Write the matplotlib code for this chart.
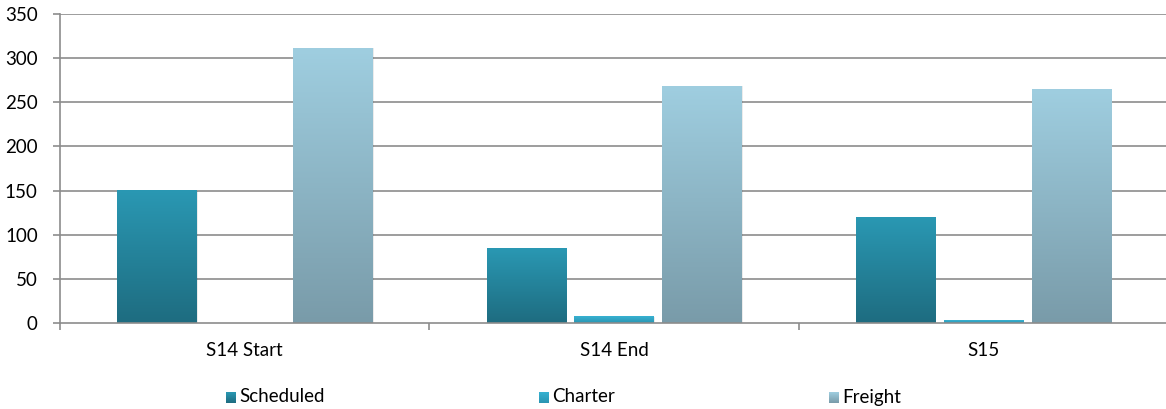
import numpy as np
import matplotlib.pyplot as plt
from matplotlib.colors import LinearSegmentedColormap
from matplotlib.patches import Rectangle

# --- data ---
categories = ["S14 Start", "S14 End", "S15"]
series_names = ["Scheduled", "Charter", "Freight"]
scheduled = [150, 84, 120]
charter = [0, 7, 2.5]
freight = [311, 268, 265]

# gradient (top, bottom) per series
grad = {
    "Scheduled": ("#2A98B3", "#1E6C80"),
    "Charter": ("#38B2D2", "#2A95B2"),
    "Freight": ("#9FCEE0", "#799BA9"),
}

plt.rcParams['font.family'] = ['Lato', 'DejaVu Sans']

fig = plt.figure(figsize=(11.66, 4.09), dpi=100)
ax = fig.add_axes([60 / 1166, 1 - 323 / 409, 1108 / 1166, 309 / 409])

x = np.arange(len(categories))
width = 0.214
step = 0.238
values = [scheduled, charter, freight]

grid_col = "#8C8C8C"
for yv in range(50, 351, 50):
    ax.axhline(yv, color=grid_col, lw=1.2, zorder=1)

for i, (name, vals) in enumerate(zip(series_names, values)):
    cmap = LinearSegmentedColormap.from_list(name, [grad[name][1], grad[name][0]])
    for xi, v in zip(x, vals):
        left = xi + (i - 1) * step - width / 2
        if v <= 0:
            continue
        # soft shadow
        ax.add_patch(Rectangle((left + 0.004, 0), width, v, color="#000000",
                               alpha=0.08, lw=0, zorder=2))
        g = np.linspace(0, 1, 256).reshape(-1, 1)
        ax.imshow(g, extent=(left, left + width, 0, v), origin='lower',
                  cmap=cmap, aspect='auto', zorder=3, interpolation='bicubic')

ax.set_xlim(-0.5, len(categories) - 0.5)
ax.set_ylim(0, 350)
ax.set_yticks(range(0, 351, 50))

ax.set_xticks(x)
ax.set_xticklabels(categories, fontsize=13.5)
ax.tick_params(axis='x', length=0, pad=14)
ax.set_xticks(np.arange(-0.5, len(categories), 1.0), minor=True)
ax.tick_params(axis='x', which='minor', length=5, color=grid_col, width=1.2)
ax.tick_params(axis='y', length=5, color=grid_col, width=1.2, labelsize=13.5, pad=11)

for s in ['top', 'right']:
    ax.spines[s].set_visible(False)
ax.spines['left'].set_color(grid_col)
ax.spines['bottom'].set_color(grid_col)
ax.spines['left'].set_linewidth(1.2)
ax.spines['bottom'].set_linewidth(1.2)
ax.spines['bottom'].set_zorder(4)

# legend drawn by hand at the bottom
leg_x = [226, 539, 829]
for name, lx in zip(series_names, leg_x):
    lax = fig.add_axes([lx / 1166, 1 - 403 / 409, 10 / 1166, 11 / 409])
    cmap = LinearSegmentedColormap.from_list(name + "_l", [grad[name][1], grad[name][0]])
    lax.imshow(np.linspace(0, 1, 64).reshape(-1, 1), origin='lower', cmap=cmap,
               aspect='auto')
    lax.axis('off')
    fig.text((lx + 13) / 1166, 1 - 397 / 409, name, fontsize=13.5, va='center', ha='left')

fig.savefig("out.png", dpi=100)
